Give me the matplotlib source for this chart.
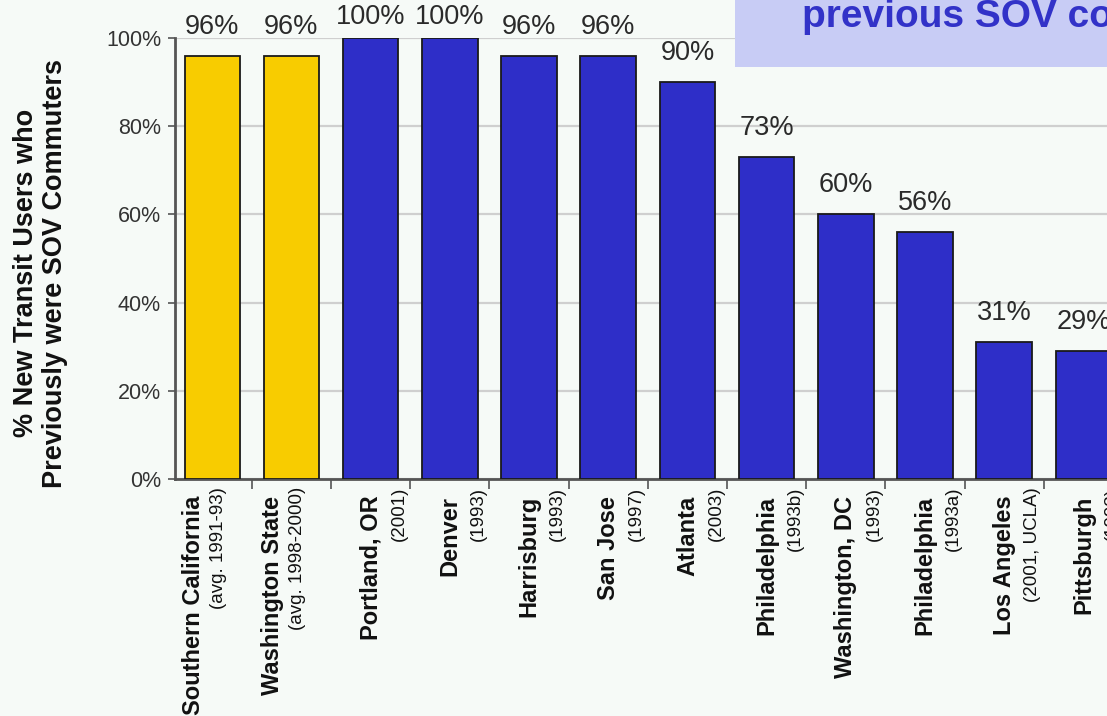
import matplotlib
matplotlib.use("Agg")
import matplotlib.pyplot as plt
from matplotlib.patches import Rectangle

plt.rcParams['font.family'] = ['Liberation Sans', 'DejaVu Sans']

# data
places = ["Southern California", "Washington State", "Portland, OR", "Denver",
          "Harrisburg", "San Jose", "Atlanta", "Philadelphia", "Washington, DC",
          "Philadelphia", "Los Angeles", "Pittsburgh"]
studies = ["(avg. 1991-93)", "(avg. 1998-2000)", "(2001)", "(1993)", "(1993)",
           "(1997)", "(2003)", "(1993b)", "(1993)", "(1993a)", "(2001, UCLA)",
           "(1993)"]
shares = [96, 96, 100, 100, 96, 96, 90, 73, 60, 56, 31, 29]
statewide = [True, True, False, False, False, False, False, False, False,
             False, False, False]

bg = "#f6faf7"
yellow = "#f8cc00"
blue = "#2e2ec8"

fig = plt.figure(figsize=(11.07, 7.16), dpi=100, facecolor=bg)
W, H = 1107, 716
# axes runs past the right edge, the original image is cropped there
ax = fig.add_axes([175 / W, 1 - 479 / H, 948 / W, 441 / H])
ax.set_facecolor(bg)

x = list(range(len(shares)))
colors = [yellow if s else blue for s in statewide]
ax.bar(x, shares, width=0.7, color=colors, edgecolor="#1a1a1a",
       linewidth=1.3, zorder=3)

ax.set_xlim(-0.47, 11.5)
ax.set_ylim(0, 100)
ax.set_yticks([0, 20, 40, 60, 80, 100])
ax.set_yticklabels(["0%", "20%", "40%", "60%", "80%", "100%"])
ax.yaxis.grid(True, color="#cfcfcf", linewidth=1.6, zorder=0)
ax.tick_params(axis="y", labelsize=15.5, labelcolor="#333333", length=5,
               width=1.2, color="#555555", pad=5)

ax.set_xticks([i + 0.5 for i in x])
ax.set_xticklabels([])
ax.tick_params(axis="x", length=7, width=1.2, color="#555555")

for side in ["top", "right"]:
    ax.spines[side].set_visible(False)
for side in ["left", "bottom"]:
    ax.spines[side].set_color("#555555")
    ax.spines[side].set_linewidth(2)

# value labels, kept inside the top of the picture
for i, v in enumerate(shares):
    ax.text(i, min(v + 5, 103.2), "{}%".format(v), ha="center", va="baseline",
            fontsize=19.5, color="#2a2a2a", clip_on=False)

# two part category labels
tr = ax.get_xaxis_transform()
for i in x:
    main_dx = -0.24 if statewide[i] else 0.0
    sub_dx = 0.08 if statewide[i] else 0.36
    ax.text(i + main_dx, -0.038, places[i], transform=tr, rotation=90,
            ha="center", va="top", fontsize=17, fontweight="bold", color="#111111")
    ax.text(i + sub_dx, -0.018, studies[i], transform=tr, rotation=90,
            ha="center", va="top", fontsize=13.5, color="#111111")

fig.text(41 / W, 1 - 273 / H, "% New Transit Users who\nPreviously were SOV Commuters",
         rotation=90, ha="center", va="center", multialignment="center",
         fontsize=19.5, fontweight="bold", color="#111111", linespacing=1.15)

# callout box, cut off at the right edge
fig.patches.append(Rectangle((735 / W, 1 - 67 / H), 400 / W, 80 / H,
                             transform=fig.transFigure, facecolor="#c8ccf5",
                             edgecolor="none", zorder=5))
fig.text(802 / W, 1 - 27 / H, "previous SOV commuters", ha="left", va="baseline",
         fontsize=28, fontweight="bold", color="#3232c8", zorder=6)

fig.savefig("out.png", dpi=100, facecolor=bg)
